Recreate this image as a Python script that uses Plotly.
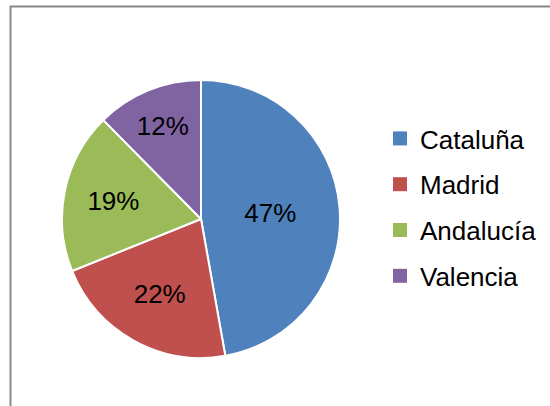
import plotly.graph_objects as go

categories = ["Cataluña", "Madrid", "Andalucía", "Valencia"]
values = [47.2, 21.7, 18.7, 12.4]
colors = ["#4F81BD", "#C0504D", "#9BBB59", "#8064A2"]

W, H = 550, 406
FONT = "Liberation Sans, Arial"

fig = go.Figure()
fig.add_trace(go.Pie(
    labels=categories,
    values=values,
    sort=False,
    direction="clockwise",
    rotation=0,
    marker=dict(colors=colors, line=dict(color="white", width=2)),
    textinfo="percent",
    texttemplate="%{percent:.0%}",
    textposition="inside",
    insidetextorientation="horizontal",
    textfont=dict(family=FONT, size=26, color="black"),
    domain=dict(x=[62 / W, 340 / W], y=[1 - 358 / H, 1 - 80 / H]),
    hoverinfo="label+percent",
    showlegend=False,
))

# legend entries (one per category)
for name, col in zip(categories, colors):
    fig.add_trace(go.Scatter(
        x=[None], y=[None], mode="markers", name=name,
        legendgroup=name,
        marker=dict(symbol="square", size=14, color=col),
        hoverinfo="skip",
    ))

fig.update_layout(
    width=W, height=H,
    margin=dict(l=0, r=0, t=0, b=0),
    paper_bgcolor="white",
    plot_bgcolor="white",
    font=dict(family=FONT, size=26, color="black"),
    xaxis=dict(visible=False),
    yaxis=dict(visible=False),
    showlegend=True,
    legend=dict(
        x=380 / W, y=1 - 115 / H, xanchor="left", yanchor="top",
        font=dict(family=FONT, size=26, color="black"),
        bgcolor="rgba(0,0,0,0)",
        itemwidth=30,
        tracegroupgap=9,
    ),
    shapes=[dict(
        type="rect", xref="paper", yref="paper",
        x0=10.5 / W, x1=1.2, y0=-0.2, y1=1 - 6.5 / H,
        line=dict(color="#878787", width=2),
        fillcolor="rgba(0,0,0,0)",
    )],
)

fig.write_html("out.html", config={"displayModeBar": False},
               post_script="document.body.style.margin='0';")
